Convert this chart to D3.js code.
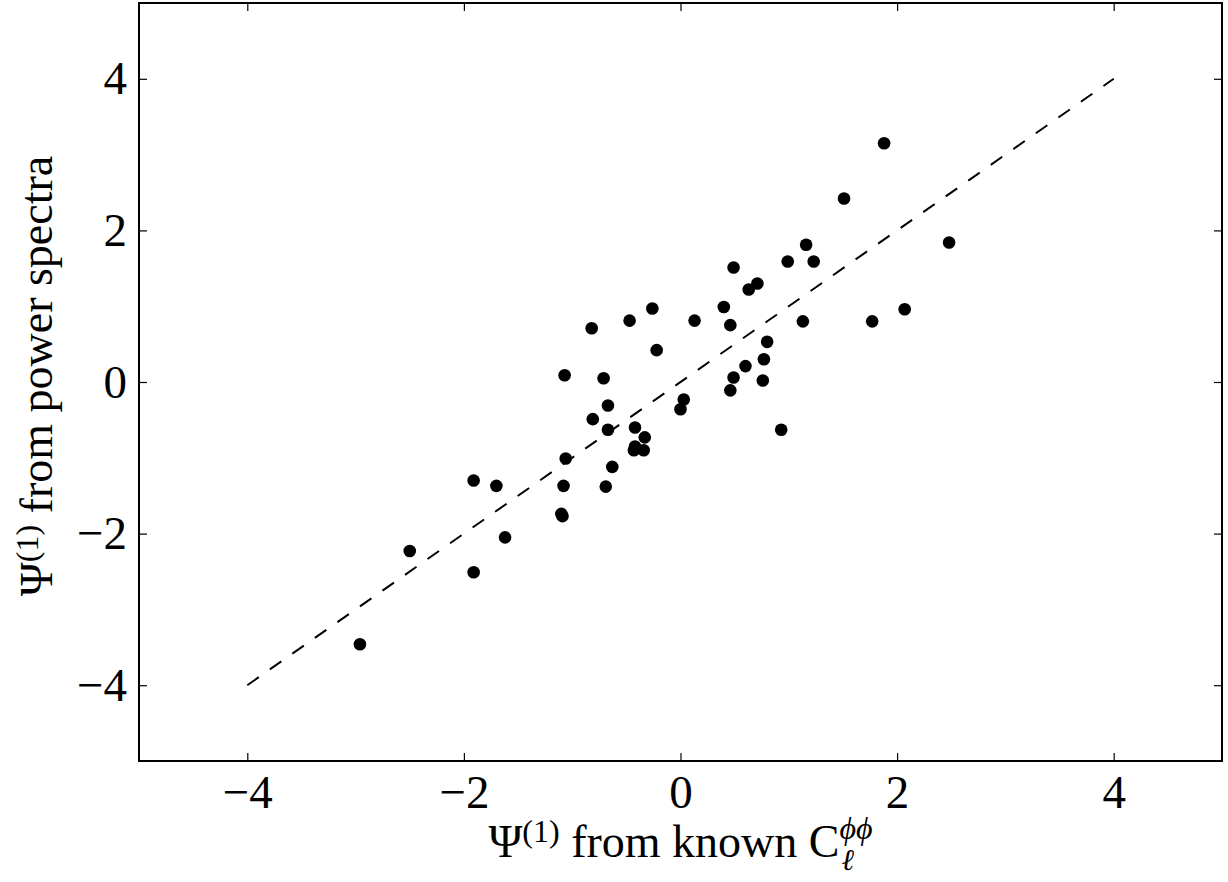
<!DOCTYPE html>
<html>
<head>
<meta charset="utf-8">
<script src="https://cdnjs.cloudflare.com/ajax/libs/d3/7.8.5/d3.min.js"></script>
<style>
    body { margin: 0; background: #fff; }
    text { font-family: "Liberation Serif", "DejaVu Serif", serif; fill: #000; }
</style>
</head>
<body>
<div id="scatter-chart"></div>
<script>

// Psi(1) from known C_l^phiphi (x) vs Psi(1) from power spectra (y)
var psiKnown = [1.88, 1.51, 2.48, 1.16, 0.99, 1.23, 0.49, 0.71, 0.63, 0.40,
    -0.26, -0.47, 0.13, -0.82, 0.46, 1.13, 1.77, 2.07, -0.22, 0.80,
    0.77, 0.60, -1.07, -0.71, 0.49, 0.76, 0.03, 0.46, 0.00, -0.67,
    -0.81, -0.67, -0.42, -0.33, -0.42, -0.43, -0.34, 0.93, -1.06, -0.63,
    -0.69, -1.08, -1.91, -1.70, -1.10, -1.09, -2.50, -1.91, -1.62, -2.96];

var psiSpectra = [3.15, 2.42, 1.84, 1.81, 1.59, 1.59, 1.51, 1.30, 1.22, 0.99,
    0.97, 0.81, 0.81, 0.71, 0.75, 0.80, 0.80, 0.96, 0.42, 0.53,
    0.30, 0.21, 0.09, 0.05, 0.06, 0.02, -0.23, -0.11, -0.36, -0.31,
    -0.49, -0.63, -0.60, -0.73, -0.85, -0.90, -0.90, -0.63, -1.01, -1.12,
    -1.38, -1.37, -1.30, -1.37, -1.74, -1.77, -2.23, -2.51, -2.05, -3.46];

// one-to-one reference line
var refLine = [-4, 4];

var axisDomain = [-5, 5];
var tickLabels = [-4, -2, 0, 2, 4];


ScatterChart = function(_parentElement, _x, _y) {
    this.parentElement = _parentElement;
    this.xData = _x;
    this.yData = _y;
    this.initVis();
}

ScatterChart.prototype.initVis = function() {
    var vis = this;

    vis.margin = { top: 3, right: 6, bottom: 121, left: 139 };
    vis.width = 1228 - vis.margin.left - vis.margin.right;
    vis.height = 882 - vis.margin.top - vis.margin.bottom;

    vis.svg = d3.select("#" + vis.parentElement).append("svg")
            .attr("width", 1228)
            .attr("height", 882)
        .append("g")
            .attr("transform", "translate(" + vis.margin.left + "," + vis.margin.top + ")");

    vis.x = d3.scaleLinear().domain(axisDomain).range([0, vis.width]);
    vis.y = d3.scaleLinear().domain(axisDomain).range([vis.height, 0]);

    vis.wrangleData();
}

ScatterChart.prototype.wrangleData = function() {
    var vis = this;

    vis.displayData = vis.xData.map(function(d, i) {
        return { x: d, y: vis.yData[i] };
    });

    vis.updateVis();
}

ScatterChart.prototype.updateVis = function() {
    var vis = this;
    var tickLen = 8;

    // dashed 1:1 line
    vis.svg.append("line")
        .attr("x1", vis.x(refLine[0])).attr("y1", vis.y(refLine[0]))
        .attr("x2", vis.x(refLine[1])).attr("y2", vis.y(refLine[1]))
        .attr("stroke", "#000")
        .attr("stroke-width", 2)
        .attr("stroke-dasharray", "14,13.5");

    vis.svg.selectAll(".dot").data(vis.displayData)
        .enter().append("circle")
        .attr("class", "dot")
        .attr("cx", function(d) { return vis.x(d.x); })
        .attr("cy", function(d) { return vis.y(d.y); })
        .attr("r", 6.3)
        .attr("fill", "#000");

    // axes, ticks pointing inward on all sides
    var xBottom = d3.axisBottom(vis.x).tickValues(tickLabels).tickSizeInner(-tickLen).tickSizeOuter(0).tickPadding(14);
    var xTop = d3.axisTop(vis.x).tickValues(tickLabels).tickSizeInner(-tickLen).tickSizeOuter(0).tickFormat("");
    var yLeft = d3.axisLeft(vis.y).tickValues(tickLabels).tickSizeInner(-tickLen).tickSizeOuter(0).tickPadding(12);
    var yRight = d3.axisRight(vis.y).tickValues(tickLabels).tickSizeInner(-tickLen).tickSizeOuter(0).tickFormat("");

    vis.svg.append("g").attr("class", "axis").attr("transform", "translate(0," + vis.height + ")").call(xBottom);
    vis.svg.append("g").attr("class", "axis").call(xTop);
    vis.svg.append("g").attr("class", "axis").call(yLeft);
    vis.svg.append("g").attr("class", "axis").attr("transform", "translate(" + vis.width + ",0)").call(yRight);

    vis.svg.selectAll(".axis .domain").remove();
    vis.svg.selectAll(".axis .tick line").attr("stroke", "#000").attr("stroke-width", 1.2);
    vis.svg.selectAll(".axis .tick text")
        .style("font-family", "'Liberation Serif', serif")
        .style("font-size", "47px")
        .attr("fill", "#000");

    // frame
    vis.svg.append("rect")
        .attr("width", vis.width).attr("height", vis.height)
        .attr("fill", "none")
        .attr("stroke", "#000")
        .attr("stroke-width", 2);

    // x label
    var xl = vis.svg.append("text")
        .attr("x", vis.width / 2)
        .attr("y", vis.height + 96)
        .attr("text-anchor", "middle")
        .style("font-size", "46px");
    xl.append("tspan").text("\u03A8");
    xl.append("tspan").attr("dy", -15).style("font-size", "32px").text("(1)");
    xl.append("tspan").attr("dy", 15).text(" from known C");
    xl.append("tspan").attr("dy", -18).style("font-size", "32px").style("font-style", "italic").text("\u03D5\u03D5");
    xl.append("tspan").attr("dx", -31).attr("dy", 31).style("font-size", "30px").style("font-style", "italic").text("\u2113");

    // y label
    var yl = vis.svg.append("text")
        .attr("transform", "translate(-87," + (vis.height / 2 - 6) + ") rotate(-90)")
        .attr("text-anchor", "middle")
        .style("font-size", "46px");
    yl.append("tspan").text("\u03A8");
    yl.append("tspan").attr("dy", -14).style("font-size", "32px").text("(1)");
    yl.append("tspan").attr("dy", 14).text(" from power spectra");
}

var chart = new ScatterChart("scatter-chart", psiKnown, psiSpectra);

</script>
</body>
</html>
